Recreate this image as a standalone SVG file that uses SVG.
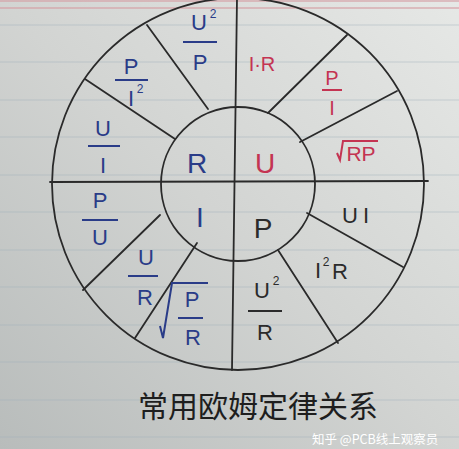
<svg xmlns="http://www.w3.org/2000/svg" width="459" height="449" viewBox="0 0 459 449">
<defs>
<linearGradient id="paper" x1="0" y1="1" x2="1" y2="0">
<stop offset="0" stop-color="#b8bcbb"/>
<stop offset="0.5" stop-color="#d2d4d2"/>
<stop offset="1" stop-color="#e6e8e6"/>
</linearGradient>
</defs>
<style>
.ln{stroke:#2a2a2a;stroke-width:1.8;fill:none;stroke-linecap:round}
.rule{stroke:#9fb0bb;stroke-width:1;opacity:0.45}
.t{font-family:"Liberation Sans","DejaVu Sans",sans-serif;text-anchor:middle}
.c{font-size:28px}
.f{font-size:22px}
.s{font-size:12px}
.b{fill:#2a3c88}
.r{fill:#c43452}
.k{fill:#2b2b2b}
.bl{stroke:#2a3c88;stroke-width:2;fill:none}
.rl{stroke:#c43452;stroke-width:2;fill:none}
.kl{stroke:#2b2b2b;stroke-width:2;fill:none}
</style>
<rect width="459" height="449" fill="url(#paper)"/>
<g id="paper-lines">
<line class="rule" x1="0" y1="25" x2="459" y2="25"/>
<line class="rule" x1="0" y1="62" x2="459" y2="62"/>
<line class="rule" x1="0" y1="100" x2="459" y2="100"/>
<line class="rule" x1="0" y1="137" x2="459" y2="137"/>
<line class="rule" x1="0" y1="175" x2="459" y2="175"/>
<line class="rule" x1="0" y1="212" x2="459" y2="212"/>
<line class="rule" x1="0" y1="250" x2="459" y2="250"/>
<line class="rule" x1="0" y1="287" x2="459" y2="287"/>
<line class="rule" x1="0" y1="325" x2="459" y2="325"/>
<line class="rule" x1="0" y1="362" x2="459" y2="362"/>
<line class="rule" x1="0" y1="400" x2="459" y2="400"/>
<line class="rule" x1="0" y1="437" x2="459" y2="437"/>
<line x1="0" y1="8" x2="459" y2="8" stroke="#d6a0a6" stroke-width="1.5" opacity="0.8"/>
<line x1="0" y1="1" x2="459" y2="1" stroke="#d6a0a6" stroke-width="2" opacity="0.6"/>
</g>
<g id="connectors">
<circle class="ln" cx="238" cy="184" r="186"/>
<circle class="ln" cx="238" cy="184" r="77"/>
<line class="ln" x1="50" y1="182" x2="428" y2="181"/>
<line class="ln" x1="237" y1="-2" x2="232" y2="370"/>
<line class="ln" x1="268" y1="113" x2="347" y2="35"/>
<line class="ln" x1="300" y1="142" x2="397" y2="91"/>
<line class="ln" x1="208" y1="109" x2="147" y2="25"/>
<line class="ln" x1="175" y1="139" x2="85" y2="79"/>
<line class="ln" x1="160" y1="215" x2="83" y2="290"/>
<line class="ln" x1="197" y1="243" x2="135" y2="338"/>
<line class="ln" x1="307" y1="213" x2="403" y2="267"/>
<line class="ln" x1="278" y1="250" x2="338" y2="343"/>
</g>
<g id="center-R"><text class="t c b" x="197" y="173">R</text></g>
<g id="center-U"><text class="t c r" x="265" y="173">U</text></g>
<g id="center-I"><text class="t c b" x="200" y="227">I</text></g>
<g id="center-P"><text class="t c k" x="263" y="238">P</text></g>
<g id="R-U2-P">
<text class="t f b" x="199" y="30">U</text><text class="t s b" x="213" y="18">2</text>
<line class="bl" x1="183" y1="42" x2="217" y2="42"/>
<text class="t f b" x="200" y="70">P</text>
</g>
<g id="R-P-I2">
<text class="t f b" x="131" y="74">P</text>
<line class="bl" x1="115" y1="80" x2="148" y2="80"/>
<text class="t f b" x="131" y="106">I</text><text class="t s b" x="140" y="93">2</text>
</g>
<g id="R-U-I">
<text class="t f b" x="103" y="136">U</text>
<line class="bl" x1="88" y1="146" x2="120" y2="146"/>
<text class="t f b" x="103" y="173">I</text>
</g>
<g id="U-IR"><text class="t r" style="font-size:20px" x="262" y="71">I·R</text></g>
<g id="U-P-I">
<text class="t r" style="font-size:20px" x="332" y="85">P</text>
<line class="rl" x1="322" y1="90" x2="342" y2="90"/>
<text class="t r" style="font-size:20px" x="332" y="115">I</text>
</g>
<g id="U-sqrtRP">
<path class="rl" d="M337,153 L340,160 L343,141 L378,141"/>
<text class="t r" style="font-size:21px" x="361" y="161">RP</text>
</g>
<g id="I-P-U">
<text class="t f b" x="100" y="208">P</text>
<line class="bl" x1="82" y1="220" x2="118" y2="220"/>
<text class="t f b" x="100" y="245">U</text>
</g>
<g id="I-U-R">
<text class="t f b" x="146" y="265">U</text>
<line class="bl" x1="128" y1="276" x2="158" y2="276"/>
<text class="t f b" x="145" y="305">R</text>
</g>
<g id="I-sqrtPR">
<path class="bl" d="M160,326 L163,338 L172,283 L208,283"/>
<text class="t f b" x="192" y="307">P</text>
<line class="bl" x1="178" y1="318" x2="203" y2="318"/>
<text class="t f b" x="193" y="345">R</text>
</g>
<g id="P-UI"><text class="t f k" x="358" y="223" style="letter-spacing:5px">UI</text></g>
<g id="P-I2R">
<text class="t f k" x="318" y="278">I</text><text class="t s k" x="326" y="266">2</text>
<text class="t f k" x="340" y="279">R</text>
</g>
<g id="P-U2-R">
<text class="t f k" x="262" y="298">U</text><text class="t s k" x="276" y="285">2</text>
<line class="kl" x1="248" y1="311" x2="282" y2="311"/>
<text class="t f k" x="265" y="340">R</text>
</g>
<g id="title">
<text x="258" y="417" style="font-family:'Noto Sans CJK SC',sans-serif;font-size:30px;text-anchor:middle;fill:#1e1e1e">常用欧姆定律关系</text>
</g>
<g id="watermark">
<text x="312" y="444" style="font-family:'Noto Sans CJK SC',sans-serif;font-size:12.5px;fill:#ffffff">知乎 @PCB线上观察员</text>
</g>
</svg>
